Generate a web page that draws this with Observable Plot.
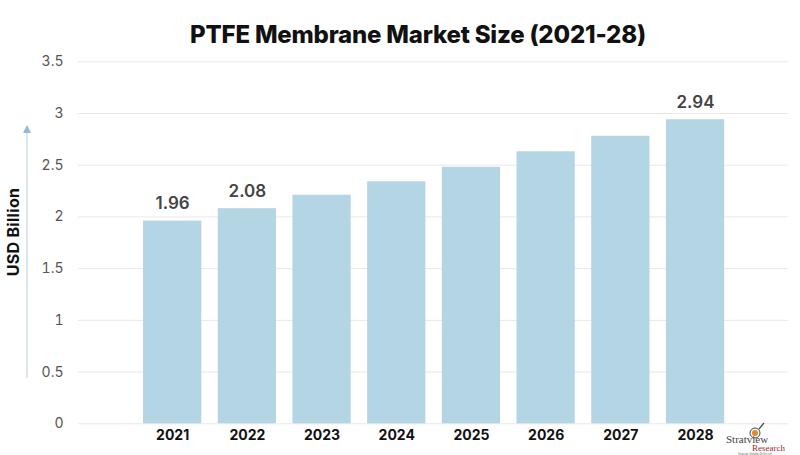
<!DOCTYPE html>
<html>
<head>
<meta charset="utf-8">
<script src="https://cdn.jsdelivr.net/npm/d3@7"></script>
<script src="https://cdn.jsdelivr.net/npm/@observablehq/plot@0.6"></script>
<style>
  html, body { margin: 0; padding: 0; background: #fff; }
  #wrap { position: relative; width: 800px; height: 455px; overflow: hidden; font-family: Inter, "Open Sans", sans-serif; }
  #title { height: 52px; line-height: 70px; text-align: center; padding-left: 36px; box-sizing: border-box;
           font-size: 24px; font-weight: 800; color: #111; letter-spacing: -0.2px; }
  #ylabel { position: absolute; left: 13px; top: 232px; transform: translate(-50%, -50%) rotate(-90deg);
            font-size: 16px; font-weight: 700; color: #111; white-space: nowrap; letter-spacing: 0.3px; }
  #arrow { position: absolute; left: 0; top: 0; }
  #logo { position: absolute; left: 726px; top: 434px; width: 62px; font-family: "Liberation Serif", serif; }
  #logo .a { font-size: 11px; line-height: 10px; color: #444; }
  #logo .b { font-size: 9px; line-height: 9px; color: #a3262a; margin-left: 26px; }
  #logo .c { font-size: 3px; line-height: 3px; color: #666; margin-left: 12px; }
</style>
</head>
<body>
<div id="wrap">
  <div id="title">PTFE Membrane Market Size (2021-28)</div>
  <div id="chart"></div>
  <svg id="arrow" width="800" height="455"><line x1="27" y1="378" x2="27" y2="132" stroke="#b9cfdc" stroke-width="1"/><path d="M23,133 L27,125 L31,133 Z" fill="#8fbcd4"/>
    <circle cx="755" cy="433" r="5" fill="none" stroke="#444" stroke-width="1"/><circle cx="755" cy="433" r="3" fill="#e08a2a"/><line x1="759" y1="429" x2="764" y2="423" stroke="#444" stroke-width="1.2"/></svg>
  <div id="ylabel">USD Billion</div>
  <div id="logo"><div class="a">Stratview</div><div class="b">Research</div><div class="c">Strategic Insights Delivered</div></div>
</div>
<script>
const years = ["2021", "2022", "2023", "2024", "2025", "2026", "2027", "2028"];
const values = [1.96, 2.08, 2.21, 2.34, 2.48, 2.63, 2.78, 2.94];
const labeledYears = ["2021", "2022", "2028"];
const yTicks = [0, 0.5, 1, 1.5, 2, 2.5, 3, 3.5];

const data = years.map((y, i) => ({year: y, value: values[i]}));
const labeled = data.filter(d => labeledYears.includes(d.year));

const chart = Plot.plot({
  width: 800,
  height: 403,
  marginTop: 9.3,
  marginBottom: 31.7,
  marginLeft: 78,
  marginRight: 12,
  style: {fontFamily: "Inter, 'Open Sans', sans-serif", background: "#fff"},
  x: {domain: years, range: [126.6, 740.6], padding: 0.22, round: false, label: null},
  y: {domain: [0, 3.5], label: null},
  marks: [
    Plot.ruleY(yTicks, {stroke: "#e8e8e8", strokeWidth: 1}),
    Plot.barY(data, {x: "year", y: "value", fill: "#b4d5e4"}),
    Plot.text(labeled, {x: "year", y: "value", text: d => d.value.toFixed(2), lineAnchor: "bottom", dy: -12, fontSize: 17, fontWeight: 600, fill: "#444"}),
    Plot.axisY({ticks: yTicks, tickSize: 0, tickPadding: 15, fontSize: 14, fill: "#555", tickFormat: d => String(d)}),
    Plot.axisX({tickSize: 0, tickPadding: 6, fontSize: 14, fontWeight: 700, fill: "#111"})
  ]
});
document.getElementById("chart").appendChild(chart);
</script>
</body>
</html>
